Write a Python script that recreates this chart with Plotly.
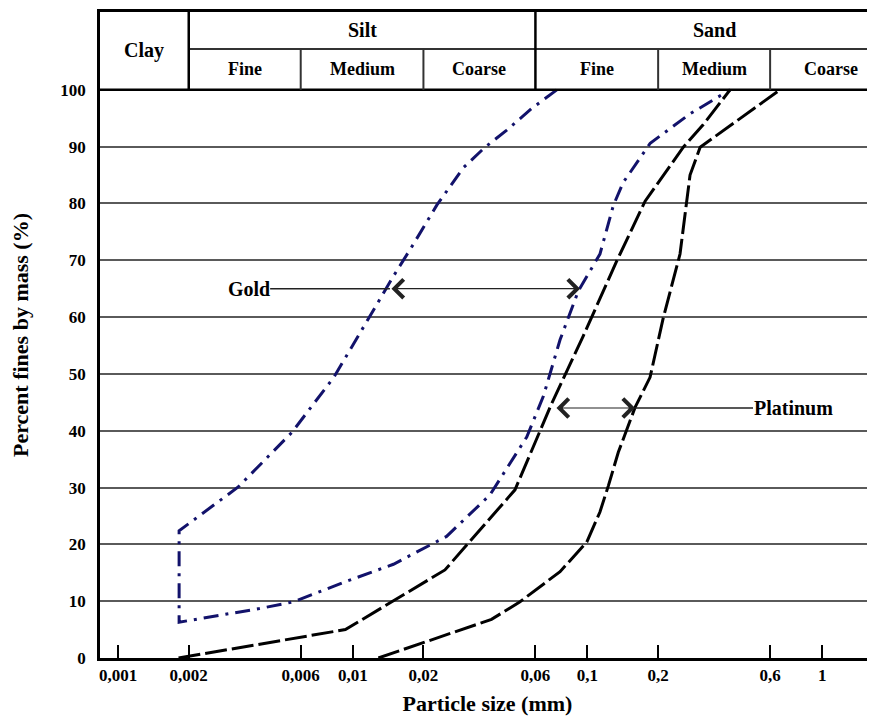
import numpy as np
import plotly.graph_objects as go

# ---------------- data (particle size in mm, percent fines by mass) ----------------
gold_upper_x = [0.00182, 0.00325, 0.0055, 0.0083, 0.0115, 0.0149, 0.0181, 0.0228,
                0.0296, 0.0366, 0.0453, 0.0578, 0.074]
gold_upper_y = [22.4, 30.1, 39.7, 49.4, 59.3, 67.2, 72.8, 79.7, 86.3, 89.9, 92.9, 96.7, 100]

gold_lower_x = [0.00182, 0.0040, 0.0056, 0.0094, 0.0149, 0.0251, 0.0384, 0.0551, 0.0649,
                0.0764, 0.0914, 0.113, 0.129, 0.142, 0.185, 0.274, 0.405]
gold_lower_y = [6.3, 8.7, 9.9, 13.5, 16.5, 21.4, 28.7, 38.9, 46.1, 56.0, 64.6, 71.1,
                79.7, 83.7, 90.6, 95.8, 100]

plat_left_x = [0.00181, 0.0093, 0.0247, 0.0491, 0.0704, 0.096, 0.133, 0.176, 0.256, 0.3115, 0.405]
plat_left_y = [0, 5.0, 15.5, 29.6, 44.8, 56.7, 69.8, 80.4, 89.9, 93.9, 100]

plat_right_x = [0.01285, 0.0390, 0.0516, 0.0764, 0.0993, 0.113, 0.1227, 0.1353, 0.1595,
                0.1847, 0.2104, 0.2479, 0.2735, 0.302, 0.661]
plat_right_y = [0, 6.8, 9.9, 15.2, 20.4, 25.7, 30.3, 36.2, 44.1, 49.4, 59.9, 71.1, 85.0, 89.9, 100]

# arrows marking the two bands (mm) and their heights (%)
gold_band = [0.0144, 0.093]
gold_band_level = 65
gold_label_x = 0.0036
plat_band = [0.0727, 0.1595]
plat_band_level = 44
plat_label_x = 0.751

x_tick_vals = [0.001, 0.002, 0.006, 0.01, 0.02, 0.06, 0.1, 0.2, 0.6, 1, 2]
x_tick_text = ["0,001", "0,002", "0,006", "0,01", "0,02", "0,06", "0,1", "0,2", "0,6", "1", "2"]
y_tick_vals = [0, 10, 20, 30, 40, 50, 60, 70, 80, 90, 100]

# size classes shown in the header
class_bounds = [0.002, 0.006, 0.02, 0.06, 0.2, 0.6, 2]
main_classes = ["Clay", "Silt", "Sand"]
main_bounds = [0.002, 0.06, 2]
sub_classes = ["Fine", "Medium", "Coarse", "Fine", "Medium", "Coarse"]

# ---------------- style ----------------
SERIF = "Liberation Serif, Times New Roman, serif"
NAVY = "#12126b"
X_RANGE = [-3.077, 0.225]
Y_TOP = 113.7
HEADER_MID = 107.2

fig = go.Figure()

gold_x = gold_upper_x[::-1] + gold_lower_x
gold_y = gold_upper_y[::-1] + gold_lower_y
fig.add_trace(go.Scatter(x=gold_x, y=gold_y, mode="lines",
                         line=dict(color=NAVY, width=3, dash="15px,7px,3px,7px"),
                         hoverinfo="skip"))
for xs, ys in [(plat_left_x, plat_left_y), (plat_right_x, plat_right_y)]:
    fig.add_trace(go.Scatter(x=xs, y=ys, mode="lines",
                             line=dict(color="black", width=3, dash="22px,5px"),
                             hoverinfo="skip"))

shapes = []
# header bottom line (at 100 %)
shapes.append(dict(type="line", xref="paper", yref="y", x0=0, x1=1, y0=100, y1=100,
                   line=dict(color="black", width=2.5)))
# middle header line
shapes.append(dict(type="line", xref="x", yref="y", x0=class_bounds[0], x1=10 ** X_RANGE[1],
                   y0=HEADER_MID, y1=HEADER_MID, line=dict(color="#333333", width=2)))
for b in class_bounds:
    if np.log10(b) >= X_RANGE[1]:
        continue
    major = b in main_bounds
    shapes.append(dict(type="line", xref="x", yref="y", x0=b, x1=b, y0=100,
                       y1=Y_TOP if major else HEADER_MID,
                       line=dict(color="black" if major else "#333333",
                                 width=2.5 if major else 2)))

annotations = []
# main class labels
lb = [X_RANGE[0]] + [np.log10(b) for b in main_bounds]
for i, name in enumerate(main_classes):
    cx = (lb[i] + lb[i + 1]) / 2
    cy = (100 + Y_TOP) / 2 if name == "Clay" else (HEADER_MID + Y_TOP) / 2
    annotations.append(dict(x=cx, y=cy, xref="x", yref="y", text=f"<b>{name}</b>",
                            showarrow=False, font=dict(family=SERIF, size=20, color="black")))
for i, name in enumerate(sub_classes):
    cx = (np.log10(class_bounds[i]) + np.log10(class_bounds[i + 1])) / 2
    annotations.append(dict(x=cx, y=(100 + HEADER_MID) / 2, xref="x", yref="y",
                            text=f"<b>{name}</b>", showarrow=False,
                            font=dict(family=SERIF, size=18, color="black")))

ARROW_COL = "#222222"
for band, lvl in [(gold_band, gold_band_level), (plat_band, plat_band_level)]:
    annotations.append(dict(x=np.log10(band[1]), y=lvl, ax=np.log10(band[0]), ay=lvl,
                            xref="x", yref="y", axref="x", ayref="y", text="",
                            showarrow=True, arrowside="end+start", arrowhead=4,
                            startarrowhead=4, arrowsize=3, startarrowsize=3,
                            arrowwidth=1.2, arrowcolor=ARROW_COL, standoff=0, startstandoff=0))
# label leader lines
annotations.append(dict(x=np.log10(gold_band[0]), y=gold_band_level,
                        ax=np.log10(gold_label_x), ay=gold_band_level,
                        xref="x", yref="y", axref="x", ayref="y", text="<b>Gold</b>",
                        showarrow=True, arrowhead=0, arrowwidth=1.5, arrowcolor=ARROW_COL,
                        font=dict(family=SERIF, size=20, color="black"), borderpad=0))
annotations.append(dict(x=np.log10(plat_band[1]), y=plat_band_level,
                        ax=np.log10(plat_label_x), ay=plat_band_level,
                        xref="x", yref="y", axref="x", ayref="y", text="<b>Platinum</b>",
                        showarrow=True, arrowhead=0, arrowwidth=1.5, arrowcolor=ARROW_COL,
                        font=dict(family=SERIF, size=20, color="black"), borderpad=0))

# the page body adds an 8px offset, so the figure is 8px smaller and margins shifted
fig.update_layout(
    template="none",
    width=867, height=712,
    margin=dict(l=92, r=0, t=4, b=62, pad=0),
    plot_bgcolor="white", paper_bgcolor="white",
    showlegend=False,
    shapes=shapes, annotations=annotations,
    xaxis=dict(type="log", range=X_RANGE, tickvals=x_tick_vals, ticktext=x_tick_text,
               ticks="inside", ticklen=13, tickwidth=1.5, tickcolor="black",
               showline=True, linecolor="black", linewidth=2.5, mirror=True,
               showgrid=False, zeroline=False, automargin=False,
               tickfont=dict(family=SERIF, size=17, color="black", weight="bold"),
               title=dict(text="<b>Particle size (mm)</b>", standoff=12,
                          font=dict(family=SERIF, size=22, color="black"))),
    yaxis=dict(range=[0, Y_TOP], tickvals=y_tick_vals, ticks="",
               showline=True, linecolor="black", linewidth=2.5,
               showgrid=True, gridcolor="#5a5a5a", gridwidth=1.6, zeroline=False,
               automargin=False, ticklabelstandoff=8,
               tickfont=dict(family=SERIF, size=17, color="black", weight="bold"),
               title=dict(text="<b>Percent fines by mass (%)</b>", standoff=27,
                          font=dict(family=SERIF, size=22, color="black"))),
)

fig.write_html("out.html")
